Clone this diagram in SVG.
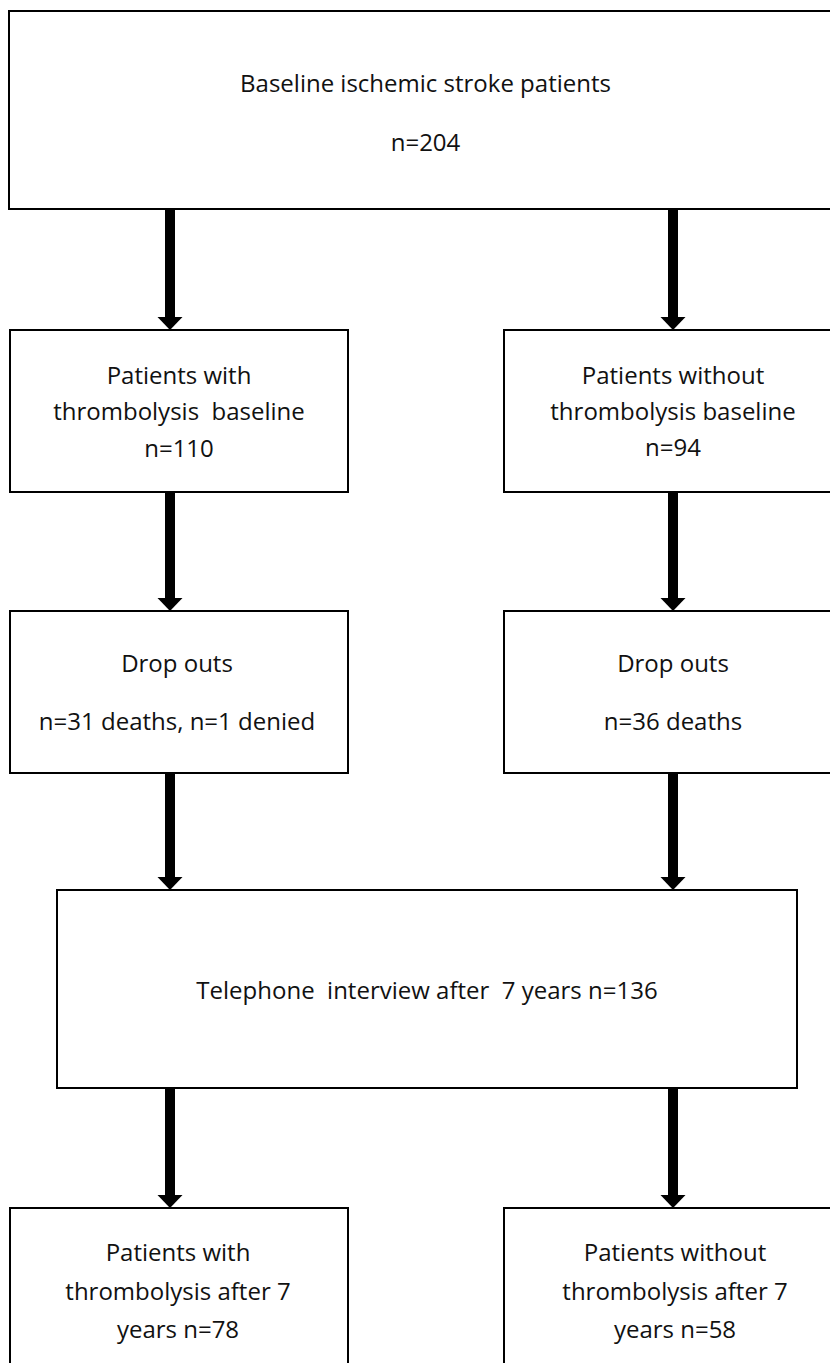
<svg xmlns="http://www.w3.org/2000/svg" width="830" height="1363" viewBox="0 0 830 1363">
  <style>
    .box { fill: #ffffff; stroke: #000000; stroke-width: 2; }
    .t { font-family: "Open Sans", "Liberation Sans", sans-serif; font-size: 24px; fill: #111111; text-anchor: middle; }
    .shaft { fill: #000000; }
  </style>
  <defs>
    <path id="arrowhead" d="M -12.5 -13 L 12.5 -13 L 0 0 Z" fill="#000000"/>
  </defs>
  <rect x="0" y="0" width="830" height="1363" fill="#ffffff"/>

  <g id="connectors">
    <!-- top box to row 2 -->
    <rect class="shaft" x="165" y="209" width="10" height="109"/>
    <use href="#arrowhead" x="170" y="330"/>
    <rect class="shaft" x="668" y="209" width="10" height="109"/>
    <use href="#arrowhead" x="673" y="330"/>
    <!-- row 2 to row 3 -->
    <rect class="shaft" x="165" y="492" width="10" height="107"/>
    <use href="#arrowhead" x="170" y="611"/>
    <rect class="shaft" x="668" y="492" width="10" height="107"/>
    <use href="#arrowhead" x="673" y="611"/>
    <!-- row 3 to telephone -->
    <rect class="shaft" x="165" y="773" width="10" height="105"/>
    <use href="#arrowhead" x="170" y="890"/>
    <rect class="shaft" x="668" y="773" width="10" height="105"/>
    <use href="#arrowhead" x="673" y="890"/>
    <!-- telephone to bottom -->
    <rect class="shaft" x="165" y="1088" width="10" height="108"/>
    <use href="#arrowhead" x="170" y="1208"/>
    <rect class="shaft" x="668" y="1088" width="10" height="108"/>
    <use href="#arrowhead" x="673" y="1208"/>
  </g>

  <g id="baseline">
    <rect class="box" x="9" y="11" width="833" height="198"/>
    <text class="t" x="425.5" y="92">Baseline ischemic stroke patients</text>
    <text class="t" x="425.5" y="151">n=204</text>
  </g>

  <g id="with-thrombolysis-baseline">
    <rect class="box" x="10" y="330" width="338" height="162"/>
    <text class="t" x="179" y="384">Patients with</text>
    <text class="t" x="179" y="420" xml:space="preserve">thrombolysis  baseline</text>
    <text class="t" x="179" y="457">n=110</text>
  </g>

  <g id="without-thrombolysis-baseline">
    <rect class="box" x="504" y="330" width="338" height="162"/>
    <text class="t" x="673" y="384">Patients without</text>
    <text class="t" x="673" y="420">thrombolysis baseline</text>
    <text class="t" x="673" y="456">n=94</text>
  </g>

  <g id="dropouts-with">
    <rect class="box" x="10" y="611" width="338" height="162"/>
    <text class="t" x="177" y="672">Drop outs</text>
    <text class="t" x="177" y="730">n=31 deaths, n=1 denied</text>
  </g>

  <g id="dropouts-without">
    <rect class="box" x="504" y="611" width="338" height="162"/>
    <text class="t" x="673" y="672">Drop outs</text>
    <text class="t" x="673" y="730">n=36 deaths</text>
  </g>

  <g id="telephone-interview">
    <rect class="box" x="57" y="890" width="740" height="198"/>
    <text class="t" x="427" y="999" xml:space="preserve">Telephone  interview after  7 years n=136</text>
  </g>

  <g id="with-thrombolysis-7y">
    <rect class="box" x="10" y="1208" width="338" height="170"/>
    <text class="t" x="178" y="1261">Patients with</text>
    <text class="t" x="178" y="1300">thrombolysis after 7</text>
    <text class="t" x="178" y="1338">years n=78</text>
  </g>

  <g id="without-thrombolysis-7y">
    <rect class="box" x="504" y="1208" width="338" height="170"/>
    <text class="t" x="675" y="1261">Patients without</text>
    <text class="t" x="675" y="1300">thrombolysis after 7</text>
    <text class="t" x="675" y="1338">years n=58</text>
  </g>
</svg>
